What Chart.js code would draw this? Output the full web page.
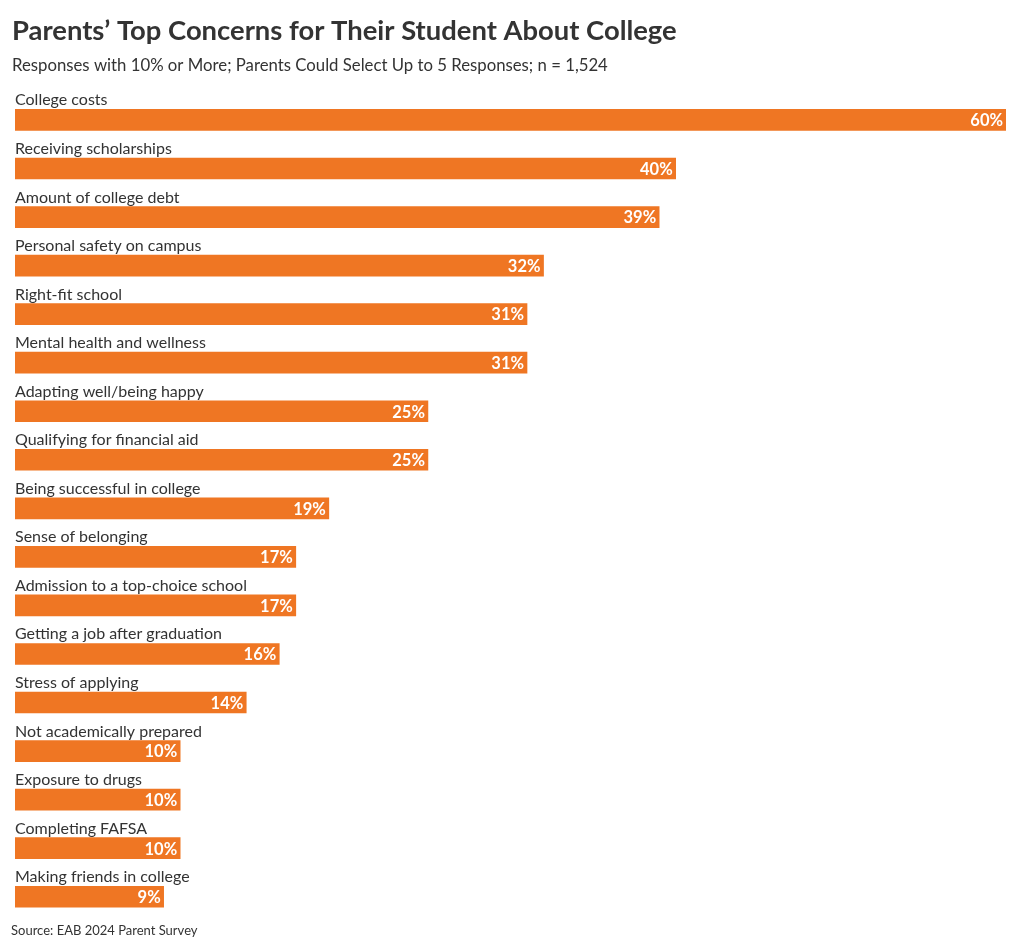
<!DOCTYPE html>
<html>
<head>
<meta charset="utf-8">
<script src="https://cdn.jsdelivr.net/npm/chart.js@4"></script>
<style>
  html, body { margin: 0; padding: 0; background: #fff; }
  #wrap { width: 1020px; height: 950px; }
</style>
</head>
<body>
<div id="wrap"><canvas id="concernsChart" width="1020" height="950"></canvas></div>
<script>
    // Data
    const concerns = [
        'College costs', 'Receiving scholarships', 'Amount of college debt',
        'Personal safety on campus', 'Right-fit school', 'Mental health and wellness',
        'Adapting well/being happy', 'Qualifying for financial aid', 'Being successful in college',
        'Sense of belonging', 'Admission to a top-choice school', 'Getting a job after graduation',
        'Stress of applying', 'Not academically prepared', 'Exposure to drugs',
        'Completing FAFSA', 'Making friends in college'
    ];
    const shares = [60, 40, 39, 32, 31, 31, 25, 25, 19, 17, 17, 16, 14, 10, 10, 10, 9];

    const titleText = 'Parents\u2019 Top Concerns for Their Student About College';
    const subtitleText = 'Responses with 10% or More; Parents Could Select Up to 5 Responses; n = 1,524';
    const sourceText = 'Source: EAB 2024 Parent Survey';

    const fontName = 'Lato, "Noto Sans", sans-serif';
    const barColor = '#ef7623';

    // Draws the category label above each bar, the value inside its end, and the source line
    const barLabels = {
        id: 'barLabels',
        afterDatasetsDraw(chart) {
            const ctx = chart.ctx;
            const meta = chart.getDatasetMeta(0);
            ctx.save();
            meta.data.forEach((bar, i) => {
                const half = bar.height / 2;
                ctx.font = '16px ' + fontName;
                ctx.fillStyle = '#333333';
                ctx.textAlign = 'left';
                ctx.textBaseline = 'alphabetic';
                ctx.fillText(concerns[i], chart.chartArea.left, bar.y - half - 4);

                ctx.font = 'bold 16.5px ' + fontName;
                ctx.fillStyle = '#ffffff';
                ctx.textAlign = 'right';
                ctx.textBaseline = 'middle';
                ctx.fillText(shares[i] + '%', bar.x - 3, bar.y + 1);
            });
            ctx.font = '13px ' + fontName;
            ctx.fillStyle = '#333333';
            ctx.textAlign = 'left';
            ctx.textBaseline = 'middle';
            ctx.fillText(sourceText, 11, chart.chartArea.bottom + 10);
            ctx.restore();
        }
    };

    const ctx = document.getElementById('concernsChart').getContext('2d');
    new Chart(ctx, {
        type: 'bar',
        data: {
            labels: concerns,
            datasets: [{
                data: shares,
                backgroundColor: barColor,
                borderWidth: 0,
                barThickness: 21
            }]
        },
        options: {
            indexAxis: 'y',
            responsive: false,
            animation: false,
            layout: { padding: { left: 12, right: 14, bottom: 29 } },
            plugins: {
                legend: { display: false },
                tooltip: { enabled: false },
                title: {
                    display: true,
                    text: titleText,
                    align: 'start',
                    color: '#333333',
                    font: { family: fontName, size: 27.4, weight: 'bold', lineHeight: 1.2 },
                    padding: { top: 15, bottom: 7.4 }
                },
                subtitle: {
                    display: true,
                    text: subtitleText,
                    align: 'start',
                    color: '#333333',
                    font: { family: fontName, size: 16.75, lineHeight: 1.2 },
                    padding: { top: 0, bottom: 20.3 }
                }
            },
            scales: {
                x: { display: false, min: 0, max: 60 },
                y: {
                    offset: true,
                    ticks: { display: false },
                    grid: { display: false },
                    border: { display: false },
                    // keeps a 3px gutter so bars start just right of the title
                    afterFit(scale) { scale.width = 3; }
                }
            }
        },
        plugins: [barLabels]
    });
</script>
</body>
</html>
